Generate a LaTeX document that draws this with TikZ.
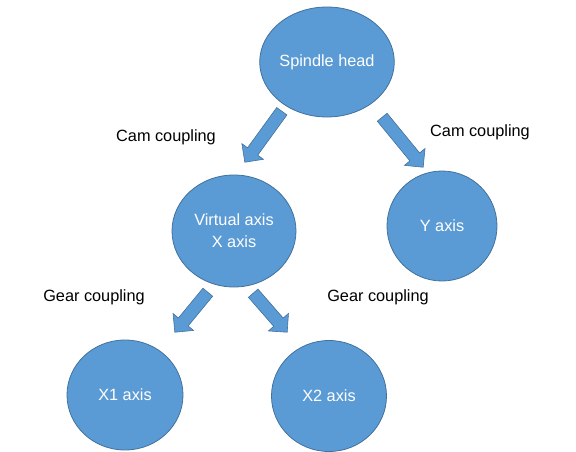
\documentclass[tikz,border=0pt]{standalone}
\usepackage{fontspec}
\setmainfont{Liberation Sans}
\usetikzlibrary{shapes.geometric,shapes.arrows,calc}

\definecolor{nodeblue}{HTML}{5B9BD5}
\definecolor{edgeblue}{HTML}{41719C}

\tikzset{
  axisnode/.style={ellipse, fill=nodeblue, draw=edgeblue, line width=0.8pt,
    text=white, font=\fontsize{16.3}{22}\selectfont, align=center, inner sep=0pt},
  couplinglabel/.style={font=\fontsize{16.3}{20}\selectfont},
  blockarrow/.style={single arrow, fill=nodeblue, draw=edgeblue, line width=0.6pt,
    single arrow head extend=7pt, single arrow head indent=0pt,
    inner xsep=0pt, inner ysep=6pt}
}

% block arrow from #1 (tail) to #2 (tip)
\newcommand\couplingarrow[2]{%
  \path let \p1=($(#2)-(#1)$), \n1={atan2(\y1,\x1)}, \n2={veclen(\x1,\y1)} in
    node[blockarrow, minimum height=\n2, rotate=\n1, anchor=tail] at (#1) {};}

\begin{document}
\begin{tikzpicture}[x=1pt, y=-1pt]
        \useasboundingbox (0,0) rectangle (576,452);

        % Draw the axes
        \node[axisnode, minimum width=126pt, minimum height=110pt] (spindle) at (327,62) {Spindle head};
        \node[axisnode, minimum width=124pt, minimum height=112pt] (virtual) at (234,231) {Virtual axis\\X axis};
        \node[axisnode, minimum width=110pt, minimum height=110pt] (yaxis) at (442,226) {Y axis};
        \node[axisnode, minimum width=116pt, minimum height=110pt] (xone) at (125,395) {X1 axis};
        \node[axisnode, minimum width=115pt, minimum height=111pt] (xtwo) at (329,396) {X2 axis};

        % Arrow ends
        \coordinate (sv tail) at (282,111);
        \coordinate (sv tip) at (245,162);
        \coordinate (sy tail) at (382,117);
        \coordinate (sy tip) at (423,167);
        \coordinate (vx1 tail) at (208,292);
        \coordinate (vx1 tip) at (175,332);
        \coordinate (vx2 tail) at (253,293);
        \coordinate (vx2 tip) at (287,332);

        % Draw the arrows
        \couplingarrow{sv tail}{sv tip}
        \couplingarrow{sy tail}{sy tip}
        \couplingarrow{vx1 tail}{vx1 tip}
        \couplingarrow{vx2 tail}{vx2 tip}

        % Labels
        \node[couplinglabel] (cam left) at (166,137) {Cam coupling};
        \node[couplinglabel] (cam right) at (480,132) {Cam coupling};
        \node[couplinglabel] (gear left) at (94,297) {Gear coupling};
        \node[couplinglabel] (gear right) at (378,297) {Gear coupling};

\end{tikzpicture}
\end{document}
